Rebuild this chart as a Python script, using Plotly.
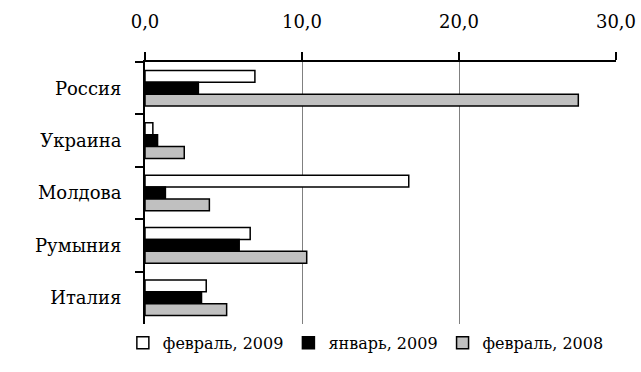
import plotly.graph_objects as go

categories = ["Россия", "Украина", "Молдова", "Румыния", "Италия"]
feb2009 = [7.0, 0.5, 16.8, 6.7, 3.9]
jan2009 = [3.4, 0.8, 1.3, 6.0, 3.6]
feb2008 = [27.6, 2.5, 4.1, 10.3, 5.2]
series_names = ["февраль, 2009", "январь, 2009", "февраль, 2008"]
tick_vals = [0, 10, 20, 30]
tick_text = ["0,0", "10,0", "20,0", "30,0"]

colors = ["#ffffff", "#000000", "#c0c0c0"]
fig = go.Figure()
for name, vals, c in zip(series_names, [feb2009, jan2009, feb2008], colors):
    fig.add_trace(go.Bar(
        y=categories, x=vals, name=name, orientation="h",
        marker=dict(color=c, line=dict(color="#000000", width=1.5)),
    ))

font = "DejaVu Serif"
fig.update_layout(
    width=641, height=372,
    margin=dict(l=145, r=25, t=62, b=46),
    paper_bgcolor="white", plot_bgcolor="white",
    barmode="group", bargap=0.32, bargroupgap=0,
    font=dict(family=font, size=18, color="#000000"),
    showlegend=True,
    legend=dict(orientation="h", x=-0.047, xanchor="left", y=-0.072, yanchor="middle",
                font=dict(size=16), itemwidth=30, tracegroupgap=0,
                borderwidth=0, bgcolor="rgba(0,0,0,0)"),
    xaxis=dict(side="top", range=[0, 30], tickvals=tick_vals, ticktext=tick_text,
               showgrid=True, gridcolor="#808080", gridwidth=1,
               showline=True, linecolor="#000000", linewidth=2,
               ticks="outside", ticklen=8, tickwidth=2, tickcolor="#000000",
               ticklabelstandoff=17, zeroline=False, automargin=False),
    yaxis=dict(autorange="reversed", type="category",
               showline=True, linecolor="#000000", linewidth=2,
               ticks="outside", ticklen=8, tickwidth=2, tickcolor="#000000",
               tickson="boundaries", showgrid=False, ticklabelstandoff=18,
               automargin=False),
)
fig.write_html("out.html")
